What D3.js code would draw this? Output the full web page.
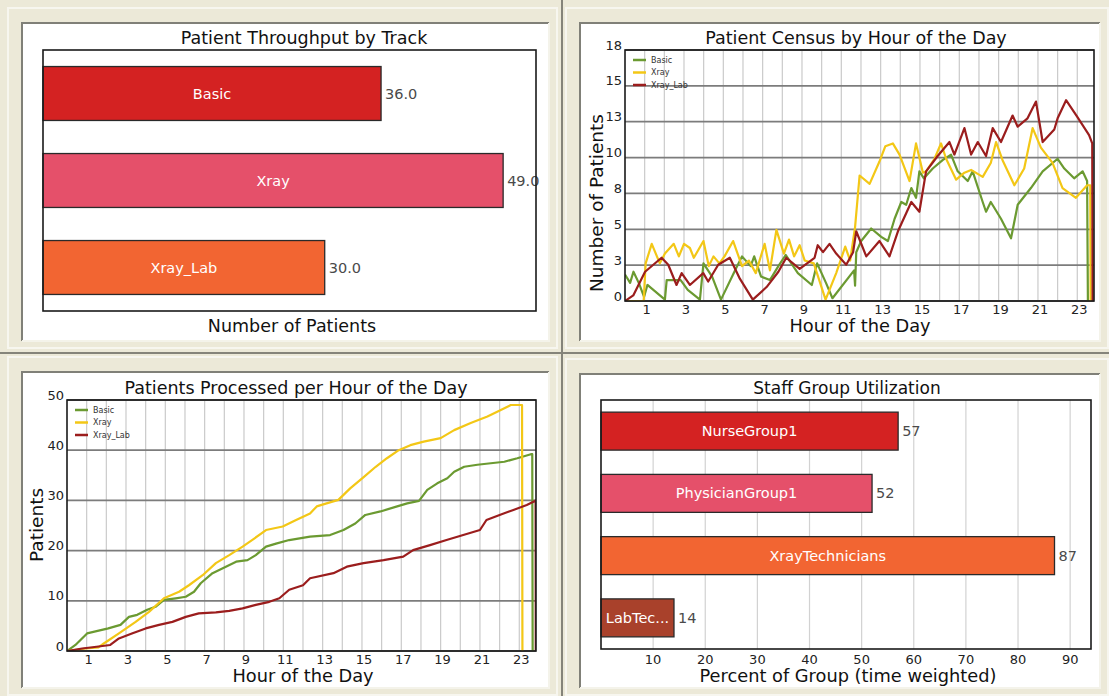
<!DOCTYPE html>
<html>
<head>
<meta charset="utf-8">
<script src="https://cdn.jsdelivr.net/npm/d3@7"></script>
<style>
	body { margin: 0; background: #ece9d8; }
	svg { display: block; font-family: "DejaVu Sans", sans-serif; }
</style>
</head>
<body>
<svg id="chart" width="1109" height="696"></svg>
<script>

// ---- data ----

const tracks = ["Basic", "Xray", "Xray_Lab"];
const throughput = [36, 49, 30];

const staffGroups = ["NurseGroup1", "PhysicianGroup1", "XrayTechnicians", "LabTechnicians"];
const utilization = [57, 52, 87, 14];
const utilTicks = [10, 20, 30, 40, 50, 60, 70, 80, 90];

const hourLabels = [1, 3, 5, 7, 9, 11, 13, 15, 17, 19, 21, 23];
const censusTickLabels = ["0", "3", "5", "8", "10", "13", "15", "18"];
const processedTicks = [0, 10, 20, 30, 40, 50];

// census: [hour, patients]
const censusBasic = [[0,1.9],[0.26,1.3],[0.43,2.1],[0.7,1.3],[0.97,0.3],[1.14,1.15],[2.03,0.1],[2.12,1.5],[2.83,1.5],[3.19,0.8],[3.81,0.1],[3.99,2.7],[4.43,1.75],[4.88,0.1],[5.6,2.2],[5.95,3.2],[6.39,2.5],[6.57,3.2],[6.92,1.75],[7.37,1.5],[7.8,2.5],[8.17,3.3],[8.79,2.0],[9.5,1.15],[9.77,2.7],[10.22,1.3],[10.55,0.2],[11.65,2.2],[11.7,1.1],[11.76,3.5],[12.01,4.3],[12.52,5.2],[13.03,4.6],[13.37,4.3],[13.71,5.9],[14.05,7.1],[14.3,6.9],[14.56,8.1],[14.8,7.4],[14.97,9.3],[15.2,8.8],[15.65,9.5],[16.15,10.1],[16.58,10.5],[16.92,9.3],[17.43,8.6],[17.68,9.3],[18.19,7.1],[18.36,6.4],[18.6,7.1],[19.12,5.9],[19.63,4.5],[19.97,6.9],[20.64,8.1],[21.24,9.3],[22.0,10.2],[22.34,9.5],[22.84,8.8],[23.27,9.3],[23.5,8.6],[23.54,0]];
const censusXray = [[0,0],[0.95,0],[1.05,2.7],[1.36,4.1],[1.77,2.7],[2.03,3.4],[2.48,4.1],[2.74,3.2],[3.0,4.1],[3.3,3.8],[3.5,3.1],[3.99,4.3],[4.26,2.5],[4.5,3.2],[4.8,2.7],[5.06,3.2],[5.5,4.3],[5.95,2.5],[6.3,2.9],[6.65,2.0],[7.1,4.1],[7.37,2.2],[7.7,5.1],[8.08,3.4],[8.34,4.4],[8.6,3.2],[8.88,4.0],[9.14,2.9],[9.6,2.7],[10.2,0.1],[10.74,2.0],[11.2,3.9],[11.45,2.9],[11.7,5.3],[11.93,9.0],[12.44,8.4],[12.94,10.0],[13.24,11.1],[13.62,11.3],[13.96,10.5],[14.47,8.6],[14.8,11.3],[15.15,9.2],[15.31,9.3],[15.74,10.2],[16.07,11.3],[16.33,10.2],[16.84,8.7],[17.26,9.2],[17.6,9.4],[18.19,8.9],[18.6,9.9],[18.87,11.4],[19.2,10.1],[19.8,8.3],[20.3,9.5],[20.73,12.4],[21.15,11.0],[21.74,9.9],[22.25,8.1],[22.93,7.4],[23.5,8.3],[23.66,8.3],[23.68,0]];
const censusLab = [[0,0],[0.42,0.4],[1.02,2.1],[1.86,3.1],[2.2,2.6],[2.62,1.15],[2.88,2.0],[3.3,1.15],[3.98,2.0],[4.23,1.4],[4.74,2.6],[5.33,3.1],[5.84,1.6],[6.5,0.1],[7.2,1.0],[7.8,2.1],[8.2,3.1],[8.88,2.3],[9.64,3.1],[9.8,4.0],[10.07,3.5],[10.4,4.1],[10.74,3.4],[11.25,2.6],[11.6,3.5],[11.76,5.0],[12.27,3.2],[12.94,4.3],[13.45,3.2],[13.88,5.0],[14.56,7.1],[14.97,6.4],[15.31,9.3],[15.9,10.4],[16.5,11.4],[16.75,10.5],[17.26,12.4],[17.6,10.5],[17.94,11.4],[18.36,10.4],[18.7,12.4],[19.12,11.4],[19.71,13.3],[19.97,12.5],[20.47,13.1],[20.9,14.3],[21.24,11.4],[21.83,12.3],[22.0,13.1],[22.43,14.4],[23.0,13.2],[23.6,11.9],[23.76,11.3],[23.78,0]];

// patients processed (cumulative): [hour, patients]
const procBasic = [[0,0],[0.43,1.2],[1.02,3.5],[1.45,3.9],[2.1,4.5],[2.72,5.2],[3.15,6.8],[3.57,7.2],[4.08,8.2],[4.5,8.8],[4.93,10.2],[5.53,10.5],[6.04,10.8],[6.46,11.8],[6.8,13.5],[7.4,15.5],[8.08,16.8],[8.6,17.8],[9.18,18.1],[9.6,19.1],[10.12,20.8],[10.63,21.4],[11.3,22.1],[12.36,22.8],[13.38,23.1],[14.06,24.1],[14.66,25.4],[15.17,27.1],[15.94,27.8],[16.79,28.8],[17.3,29.4],[17.9,29.9],[18.32,32.1],[18.83,33.4],[19.34,34.4],[19.69,35.7],[20.2,36.7],[20.87,37.1],[21.55,37.4],[22.24,37.7],[22.9,38.4],[23.59,39.2],[23.66,39.2],[23.68,0]];
const procXray = [[0,0],[0.94,0.5],[1.6,0.7],[1.87,1.5],[2.64,3.5],[3.49,5.8],[4.17,7.8],[4.93,10.5],[5.7,11.8],[6.2,13.1],[6.9,15.1],[7.57,17.5],[8.25,19.1],[8.93,20.8],[9.52,22.4],[10.12,24.1],[10.97,24.8],[11.65,26.1],[12.36,27.4],[12.7,28.8],[13.2,29.4],[13.8,30.1],[14.4,32.4],[15.1,34.7],[15.7,36.7],[16.27,38.4],[16.87,40.0],[17.46,41.0],[18.14,41.7],[19.0,42.4],[19.69,44.0],[20.53,45.4],[21.38,46.7],[22.06,48.0],[22.57,49.0],[23.14,49.0],[23.16,0]];
const procLab = [[0,0],[0.77,0.5],[1.6,0.9],[2.2,1.2],[2.64,2.5],[3.3,3.5],[4.0,4.5],[4.68,5.2],[5.36,5.8],[6.04,6.8],[6.7,7.5],[7.57,7.7],[8.25,8.0],[8.93,8.5],[9.6,9.2],[10.29,9.8],[10.8,10.5],[11.3,12.2],[12.0,13.1],[12.36,14.5],[13.55,15.5],[14.23,16.8],[15.08,17.5],[16.1,18.1],[17.1,18.8],[17.6,20.1],[18.46,21.1],[19.3,22.1],[20.15,23.1],[21.0,24.1],[21.33,26.1],[22.0,27.1],[22.7,28.1],[23.38,29.1],[23.8,29.9],[23.83,30],[23.84,0]];

const seriesNames = ["Basic", "Xray", "Xray_Lab"];
const lineColors = ["#6b9a31", "#f3c716", "#9b1d1d"];
const barColors = ["#d42222", "#e5506a", "#f26532", "#a9412b"];

// ---- canvas ----

const svg = d3.select("#chart");
const W = 1109, H = 696;

svg.append("rect").attr("width", W).attr("height", H).attr("fill", "#ece9d8");

// quadrant dividers
svg.append("line").attr("x1", 562).attr("x2", 562).attr("y1", 0).attr("y2", H)
	.attr("stroke", "#85847a").attr("stroke-width", 2);
svg.append("line").attr("x1", 0).attr("x2", W).attr("y1", 353).attr("y2", 353)
	.attr("stroke", "#85847a").attr("stroke-width", 2);

function panel(x0, y0, x1, y1) {
	svg.append("rect").attr("x", x0 - 14).attr("y", y0 - 15).attr("width", x1 - x0 + 22).attr("height", y1 - y0 + 22)
		.attr("fill", "none").attr("stroke", "#f7f6ef").attr("stroke-width", 2);
	svg.append("rect").attr("x", x0).attr("y", y0).attr("width", x1 - x0).attr("height", y1 - y0)
		.attr("fill", "#fff");
	svg.append("path").attr("d", `M${x0},${y1} V${y0} H${x1}`)
		.attr("fill", "none").attr("stroke", "#808078").attr("stroke-width", 2);
	svg.append("path").attr("d", `M${x1},${y0} V${y1} H${x0}`)
		.attr("fill", "none").attr("stroke", "#f4f3ea").attr("stroke-width", 2);
}

panel(22, 23, 549, 341);
panel(580, 23, 1100, 341);
panel(22, 372, 549, 688);
panel(580, 374, 1100, 688);

function title(x, y, txt, size) {
	svg.append("text").attr("x", x).attr("y", y).attr("text-anchor", "middle")
		.attr("dominant-baseline", "central")
		.attr("font-size", size).attr("fill", "#111").text(txt);
}

function frame(b) {
	svg.append("rect").attr("x", b.left).attr("y", b.top)
		.attr("width", b.right - b.left).attr("height", b.bottom - b.top)
		.attr("fill", "none").attr("stroke", "#1a1a1a").attr("stroke-width", 1.6);
}

// ---- horizontal bar chart ----

function barChart(b, cats, vals, xMax, colors, fmt, pad) {
	const x = d3.scaleLinear().domain([0, xMax]).range([b.left, b.right]);
	const y = d3.scaleBand().domain(cats).range([b.top, b.bottom])
		.paddingInner(pad).paddingOuter(pad / 2);
	const g = svg.append("g");

	if (b.grid) {
		g.selectAll("line.grid").data(b.grid).join("line")
			.attr("x1", d => x(d)).attr("x2", d => x(d))
			.attr("y1", b.top).attr("y2", b.bottom)
			.attr("stroke", "#d2d2d2").attr("stroke-width", 1.2);
		g.selectAll("text.tick").data(b.grid).join("text")
			.attr("x", d => x(d)).attr("y", b.bottom + 10)
			.attr("text-anchor", "middle").attr("dominant-baseline", "central")
			.attr("font-size", 13).attr("fill", "#222").text(d => d);
	}

	const rows = cats.map((c, i) => ({ c, v: vals[i], color: colors[i] }));

	g.selectAll("rect.bar").data(rows).join("rect")
		.attr("x", x(0)).attr("y", d => y(d.c))
		.attr("width", d => x(d.v) - x(0)).attr("height", y.bandwidth())
		.attr("fill", d => d.color).attr("stroke", "#2a2a2a").attr("stroke-width", 1.3);

	g.selectAll("text.cat").data(rows).join("text")
		.attr("x", d => (x(0) + x(d.v)) / 2).attr("y", d => y(d.c) + y.bandwidth() / 2)
		.attr("text-anchor", "middle").attr("dominant-baseline", "central")
		.attr("font-size", 14.5).attr("fill", "#fff").text(d => d.c)
		.each(function(d) {
			// shorten the label if it does not fit the bar
			const el = d3.select(this);
			const room = x(d.v) - x(0) - 2;
			let s = d.c;
			while (this.getComputedTextLength() > room && s.length > 1) {
				s = s.slice(0, -1);
				el.text(s + "...");
			}
		});

	g.selectAll("text.val").data(rows).join("text")
		.attr("x", d => x(d.v) + 4).attr("y", d => y(d.c) + y.bandwidth() / 2)
		.attr("dominant-baseline", "central")
		.attr("font-size", 14.5).attr("fill", "#4a4a4a").text(d => fmt(d.v));

	frame(b);
}

// ---- line chart ----

function lineChart(b, series, yMax, yTicks, yLabels) {
	const x = d3.scaleLinear().domain([0, 23.85]).range([b.left, b.right]);
	const y = d3.scaleLinear().domain([0, yMax]).range([b.bottom, b.top]);
	const g = svg.append("g");

	g.selectAll("line.vg").data(d3.range(1, 24)).join("line")
		.attr("x1", d => x(d)).attr("x2", d => x(d))
		.attr("y1", b.top).attr("y2", b.bottom)
		.attr("stroke", "#cacaca").attr("stroke-width", 1.2);
	g.selectAll("line.hg").data(yTicks).join("line")
		.attr("x1", b.left).attr("x2", b.right)
		.attr("y1", d => y(d)).attr("y2", d => y(d))
		.attr("stroke", "#7c7c7c").attr("stroke-width", 1.8);

	g.selectAll("text.yt").data(yTicks).join("text")
		.attr("x", b.left - 3).attr("y", d => y(d) - 5)
		.attr("text-anchor", "end").attr("dominant-baseline", "central")
		.attr("font-size", 13).attr("fill", "#222").text((d, i) => yLabels[i]);
	g.selectAll("text.xt").data(hourLabels).join("text")
		.attr("x", d => x(d) + 2).attr("y", b.bottom + 8)
		.attr("text-anchor", "middle").attr("dominant-baseline", "central")
		.attr("font-size", 13).attr("fill", "#222").text(d => d);

	const clipId = "clip" + b.left + "_" + b.top;
	svg.append("clipPath").attr("id", clipId).append("rect")
		.attr("x", b.left).attr("y", b.top - 2)
		.attr("width", b.right - b.left).attr("height", b.bottom - b.top + 2);

	const line = d3.line().x(d => x(d[0])).y(d => y(d[1]));
	g.append("g").attr("clip-path", `url(#${clipId})`)
		.selectAll("path").data(series).join("path")
		.attr("d", d => line(d)).attr("fill", "none")
		.attr("stroke", (d, i) => lineColors[i]).attr("stroke-width", 2.2)
		.attr("stroke-linejoin", "round");

	// legend
	const lg = g.selectAll("g.lg").data(seriesNames).join("g")
		.attr("transform", (d, i) => `translate(${b.left + 8},${b.top + 10 + i * 12.5})`);
	lg.append("line").attr("x1", 0).attr("x2", 13)
		.attr("stroke", (d, i) => lineColors[i]).attr("stroke-width", 2.5);
	lg.append("text").attr("x", 18).attr("dominant-baseline", "central")
		.attr("font-size", 8).attr("fill", "#333").text(d => d);

	frame(b);
}

// ---- draw panels ----

title(304, 38, "Patient Throughput by Track", 17.5);
barChart({ left: 43, top: 50, right: 536, bottom: 311 }, tracks, throughput, 52.5,
	barColors, d => d.toFixed(1), 0.38);
title(292, 326, "Number of Patients", 17.5);

title(856, 38, "Patient Census by Hour of the Day", 17.5);
lineChart({ left: 625, top: 50, right: 1094, bottom: 301 },
	[censusBasic, censusXray, censusLab], 18,
	d3.range(0, 8).map(i => i * 18 / 7), censusTickLabels);
title(860, 325, "Hour of the Day", 17.8);
svg.append("text").attr("transform", "translate(596,203) rotate(-90)")
	.attr("text-anchor", "middle").attr("dominant-baseline", "central")
	.attr("font-size", 18.5).attr("fill", "#111").text("Number of Patients");

title(296, 388, "Patients Processed per Hour of the Day", 17.5);
lineChart({ left: 67, top: 400, right: 536, bottom: 651 },
	[procBasic, procXray, procLab], 50, processedTicks, processedTicks.map(String));
title(303, 675, "Hour of the Day", 17.8);
svg.append("text").attr("transform", "translate(36,525) rotate(-90)")
	.attr("text-anchor", "middle").attr("dominant-baseline", "central")
	.attr("font-size", 18.5).attr("fill", "#111").text("Patients");

title(847, 388, "Staff Group Utilization", 17);
barChart({ left: 601, top: 400, right: 1091, bottom: 649, grid: utilTicks }, staffGroups, utilization, 94,
	barColors, d => d, 0.39);
title(848, 675, "Percent of Group (time weighted)", 17.8);

</script>
</body>
</html>
